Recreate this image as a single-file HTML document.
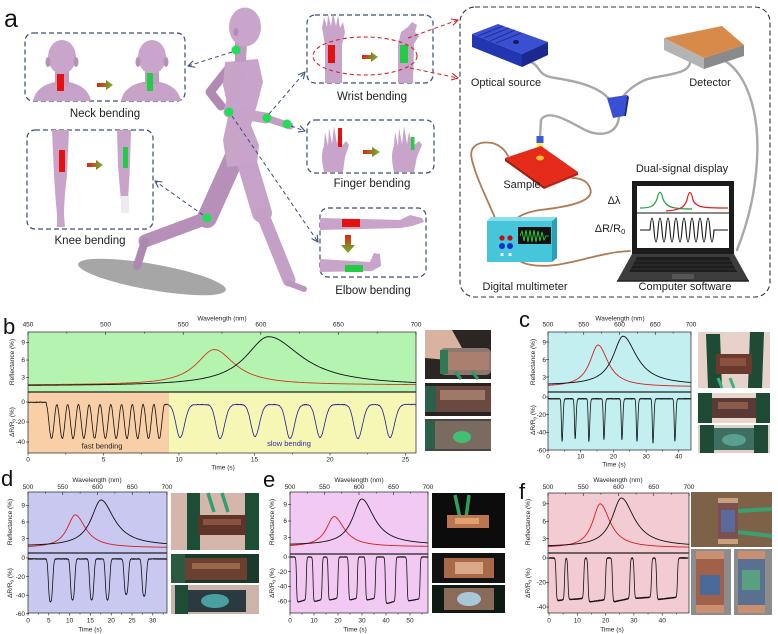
<!DOCTYPE html>
<html><head><meta charset="utf-8">
<style>
html,body{margin:0;padding:0;background:#fff;}
svg{display:block;}
text{font-family:"Liberation Sans",Arial,sans-serif;}
</style></head><body>
<svg id="g" width="778" height="634" viewBox="0 0 778 634" xmlns="http://www.w3.org/2000/svg">
<defs>
<marker id="an" viewBox="0 0 8 8" markerWidth="8" markerHeight="8" refX="7.5" refY="4" orient="auto" markerUnits="userSpaceOnUse"><path d="M1,0.6 L7.5,4 L1,7.4" fill="none" stroke="#3b4d7a" stroke-width="1.1"/></marker>
<marker id="ar" viewBox="0 0 8 8" markerWidth="8" markerHeight="8" refX="7.5" refY="4" orient="auto" markerUnits="userSpaceOnUse"><path d="M1,0.6 L7.5,4 L1,7.4" fill="none" stroke="#d42020" stroke-width="1.1"/></marker>
<linearGradient id="rg" x1="0" y1="0" x2="1" y2="0"><stop offset="0" stop-color="#e52010"/><stop offset="1" stop-color="#5cc030"/></linearGradient>
<linearGradient id="rgv" x1="0" y1="0" x2="0" y2="1"><stop offset="0" stop-color="#e52010"/><stop offset="1" stop-color="#5cc030"/></linearGradient>
<linearGradient id="yl" x1="0" y1="0" x2="0" y2="1"><stop offset="0" stop-color="#fff060"/><stop offset="1" stop-color="#ffd020" stop-opacity="0.4"/></linearGradient>
</defs>
<rect width="778" height="634" fill="#fff"/>

<!-- ============ PANEL A ============ -->
<text x="4" y="27" font-size="25" fill="#111">a</text>

<ellipse cx="152" cy="277" rx="75" ry="13" fill="#a6a6a6" transform="rotate(10 152 277)"/>

<!-- mannequin -->
<g fill="none" stroke-linecap="round" stroke-linejoin="round">
 <path d="M234,158 L207,218" stroke="#b690b8" stroke-width="20"/>
 <path d="M207,218 L145,241" stroke="#b690b8" stroke-width="13"/>
 <path d="M145,241 L137,266" stroke="#ad88b0" stroke-width="8"/>
 <path d="M229,68 L210,92 L221,106" stroke="#b08ab2" stroke-width="9"/>
 <path d="M245,156 L262,213" stroke="#c6a2c8" stroke-width="20"/>
 <path d="M262,213 L289,280" stroke="#c4a0c6" stroke-width="13"/>
 <path d="M288,283 L304,289" stroke="#bc98be" stroke-width="6"/>
</g>
<path d="M225,62 L258,59 L263,82 L257,105 L251,125 L259,145 L257,164 L227,167 L223,140 L229,112 L223,85 Z" fill="#c8a4ca"/>
<path d="M235,42 L247,42 L246,62 L235,62 Z" fill="#bf9bc1"/>
<ellipse cx="245" cy="27" rx="16" ry="19.5" fill="#c9a5cb"/>
<ellipse cx="236" cy="32" rx="2.5" ry="4" fill="#b28cb4"/>
<g fill="none" stroke-linecap="round" stroke-linejoin="round">
 <path d="M240,70 L229,112 L266,118" stroke="#c7a3c9" stroke-width="11"/>
 <path d="M266,118 L290,126" stroke="#c29ec4" stroke-width="7"/>
</g>
<g fill="#22dd55">
 <circle cx="236" cy="50" r="4.5"/><circle cx="229" cy="112" r="4.5"/><circle cx="267" cy="118" r="4.5"/><circle cx="287" cy="124" r="4.5"/><circle cx="207" cy="218" r="4.5"/>
</g>

<!-- dashed arrows -->
<g fill="none" stroke="#3b4d7a" stroke-width="1" stroke-dasharray="4,3">
 <path d="M232,52 L188,66" marker-end="url(#an)"/>
 <path d="M203,215 L155,181" marker-end="url(#an)"/>
 <path d="M269,114 L305,72" marker-end="url(#an)"/>
 <path d="M291,126 L305,131" marker-end="url(#an)"/>
 <path d="M232,116 L318,242" marker-end="url(#an)"/>
</g>

<!-- boxes -->
<g fill="none" stroke="#3b4d7a" stroke-width="1.2" stroke-dasharray="5,3">
 <rect x="25" y="33" width="160" height="68" rx="8"/>
 <rect x="27" y="130" width="126" height="99" rx="8"/>
 <rect x="307" y="15" width="126" height="68" rx="8"/>
 <rect x="307" y="120" width="127" height="53" rx="8"/>
 <rect x="320" y="208" width="106" height="69" rx="8"/>
</g>

<!-- neck box content -->
<path d="M33,101 Q36,86 55,82 L69,82 Q88,86 91,101 Z" fill="#c6a2c8"/>
<rect x="55" y="68" width="14" height="16" fill="#c09cc2"/>
<ellipse cx="62" cy="57" rx="14" ry="17" fill="#c9a5cb"/>
<ellipse cx="48" cy="62" rx="2.5" ry="5" fill="#b690b8"/><ellipse cx="76" cy="62" rx="2.5" ry="5" fill="#b690b8"/>
<rect x="57" y="74" width="7" height="17" fill="#e51010"/>
<path d="M97,83 L106,83 L106,80 L113,85 L106,90 L106,87 L97,87 Z" fill="url(#rg)"/>
<path d="M121,101 Q124,86 143,82 L160,82 Q178,86 181,101 Z" fill="#c6a2c8"/>
<rect x="145" y="68" width="14" height="16" fill="#c09cc2"/>
<ellipse cx="152" cy="57" rx="14" ry="17" fill="#c9a5cb"/>
<ellipse cx="138" cy="62" rx="2.5" ry="5" fill="#b690b8"/><ellipse cx="166" cy="62" rx="2.5" ry="5" fill="#b690b8"/>
<rect x="147" y="73" width="6" height="18" fill="#22cc44"/>

<!-- knee box content -->
<path d="M52,130 L69,130 L67,175 Q64,200 64,215 L65,227 L57,227 L57,215 Q55,195 54,175 Z" fill="#c8a4ca"/>
<rect x="59" y="150" width="6" height="22" fill="#e51010"/>
<path d="M87,163 L96,163 L96,160 L103,165 L96,170 L96,167 L87,167 Z" fill="url(#rg)"/>
<path d="M117,130 L131,130 L130,165 Q129,185 128,200 L129,213 L121,213 L121,200 Q119,180 118,165 Z" fill="#c8a4ca"/>
<rect x="121" y="196" width="8" height="17" fill="#f2eaf2"/>
<rect x="123" y="147" width="5" height="21" fill="#22cc44"/>

<!-- wrist box -->
<path d="M325,83 L325,45 L322,28 L324,17 L327,27 L328,14 L331,26 L333,13 L336,26 L338,15 L340,28 L343,22 L345,32 L342,45 L342,83 Z" fill="#c8a4ca"/>
<rect x="328" y="45" width="7" height="18" fill="#e51010"/>
<path d="M362,55 L371,55 L371,52 L378,57 L371,62 L371,59 L362,59 Z" fill="url(#rg)"/>
<path d="M398,83 L398,45 L401,32 L408,27 L412,22 L417,25 L415,32 L419,36 L414,44 L413,83 Z" fill="#c8a4ca"/>
<rect x="400" y="45" width="8" height="18" fill="#22cc44"/>
<ellipse cx="365" cy="56" rx="52" ry="19" fill="none" stroke="#d42020" stroke-width="1.1" stroke-dasharray="4,3"/>
<g fill="none" stroke="#d42020" stroke-width="1" stroke-dasharray="4,3">
 <path d="M408,38 L458,20" marker-end="url(#ar)"/>
 <path d="M410,68 L458,78" marker-end="url(#ar)"/>
</g>

<!-- finger box -->
<path d="M324,172 Q320,155 324,146 L325,132 L328,146 L329,128 L332,144 L334,126 L337,144 L339,129 L342,146 L346,141 L349,145 L345,157 L343,172 Z" fill="#c8a4ca"/>
<rect x="338" y="128" width="4" height="19" fill="#e51010"/>
<path d="M363,150 L372,150 L372,147 L380,152 L372,157 L372,154 L363,154 Z" fill="url(#rg)"/>
<path d="M394,172 Q390,155 394,146 L395,132 L398,146 L399,128 L402,144 L404,126 L407,144 L409,132 L413,146 L419,141 L422,145 L417,157 L414,172 Z" fill="#c8a4ca"/>
<rect x="411" y="137" width="3.5" height="13" fill="#22cc44"/>

<!-- elbow box -->
<path d="M320,218 L400,220 L410,215 L422,218 L424,222 L412,226 L400,228 L320,230 Z" fill="#c8a4ca"/>
<rect x="342" y="219" width="18" height="8" fill="#e51010"/>
<path d="M345,235 L351,235 L351,245 L355,245 L348,253 L341,245 L345,245 Z" fill="url(#rgv)"/>
<path d="M320,259 L370,262 L374,253 L380,254 L381,266 L372,271 L320,272 Z" fill="#c8a4ca"/>
<rect x="345" y="265" width="18" height="7" fill="#22cc44"/>

<g font-size="11.5" fill="#222" text-anchor="middle">
 <text x="105" y="117">Neck bending</text>
 <text x="90" y="244">Knee bending</text>
 <text x="372" y="100">Wrist bending</text>
 <text x="372" y="187">Finger bending</text>
 <text x="373" y="294">Elbow bending</text>
</g>

<!-- big right box -->
<rect x="460" y="7" width="310" height="290" rx="15" fill="none" stroke="#333" stroke-width="1.1" stroke-dasharray="5,3"/>

<g fill="none" stroke="#a8a8a8" stroke-width="2.4" stroke-linecap="round">
 <path d="M521,60 C545,62 532,75 555,78 C582,82 600,88 610,100"/>
 <path d="M690,60 C692,76 660,74 645,80 C632,86 626,92 622,98"/>
 <path d="M619,117 C617,135 600,137 585,130 C570,122 548,108 541,120 L540,138"/>
 <path d="M716,57 C745,65 760,110 757,160 C755,200 745,230 737,250"/>
</g>
<path d="M472,34 L498,24 L548,42 L522,54 Z" fill="#3a4fd2"/>
<path d="M472,34 L522,54 L522,67 L472,47 Z" fill="#2236b2"/>
<path d="M522,54 L548,42 L548,55 L522,67 Z" fill="#1a2890"/>
<g stroke="#1a2a8a" stroke-width="0.8"><path d="M478,36 L503,26 M484,38 L509,28 M490,41 L515,30 M496,43 L521,33"/></g>
<ellipse cx="516" cy="42" rx="3" ry="2" fill="#121a60"/>
<path d="M664,38 L722,26 L744,45 L704,58 Z" fill="#d88a4a"/>
<path d="M664,38 L704,58 L704,69 L664,50 Z" fill="#b4b4b4"/>
<path d="M704,58 L744,45 L744,56 L704,69 Z" fill="#8a8a8a"/>
<path d="M607,98 L627,95 L624,116 L613,118 Z" fill="#3a4fd2"/>
<path d="M624,116 L627,95 L629,97 L626,116 Z" fill="#1a2890"/>
<rect x="537" y="143" width="6" height="18" fill="url(#yl)"/>
<rect x="536.5" y="136" width="7" height="7" fill="#3a5ad0"/>
<path d="M505,158 L541,146 L578,172 L544,186 Z" fill="#e42a18"/>
<path d="M505,158 L544,186 L544,189 L505,161 Z" fill="#a81a10"/>
<path d="M544,186 L578,172 L578,175 L544,189 Z" fill="#c02010"/>
<ellipse cx="540" cy="158" rx="4" ry="2.5" fill="#ffe040" opacity="0.8"/>
<g fill="none" stroke="#b07a52" stroke-width="1.8" stroke-linecap="round">
 <path d="M502,237 C496,215 478,185 472,160 C468,145 480,141 492,143 C500,145 505,150 508,156"/>
 <path d="M510,237 C510,222 515,214 540,210 C575,206 595,200 590,188 C587,180 580,178 572,178"/>
 <path d="M512,253 C518,266 540,268 562,264 C585,260 605,252 630,251"/>
</g>
<path d="M487,221 L491,217 L557,217 L552,221 Z" fill="#8adfea"/>
<path d="M552,221 L557,217 L557,258 L552,262 Z" fill="#2a9fb6"/>
<rect x="487" y="221" width="65" height="41" fill="#46c6da"/>
<rect x="518" y="227" width="33" height="17" fill="#111"/>
<path d="M520,236 L522,231 L524,241 L526,230 L528,242 L530,230 L532,242 L534,230 L536,242 L538,231 L540,241 L542,232 L544,240 L546,236 L549,236" fill="none" stroke="#30e040" stroke-width="0.8"/>
<circle cx="502" cy="238" r="2.6" fill="#c01010"/><circle cx="510" cy="238" r="2.6" fill="#c01010"/>
<circle cx="502" cy="246" r="3" fill="#1030c8"/><circle cx="510" cy="246" r="3" fill="#1030c8"/>
<rect x="500.5" y="253" width="3" height="3" fill="#eee"/><rect x="508.5" y="253" width="3" height="3" fill="#eee"/>
<rect x="632" y="181" width="102" height="73" fill="#1c1c1c"/>
<rect x="637" y="186" width="92" height="62" fill="#fff"/>
<path d="M632,254 L734,254 L749,281 L617,281 Z" fill="#3c3c3c"/>
<path d="M637,257 L729,257 L737,272 L629,272 Z" fill="#1e1e1e"/>
<g stroke="#444" stroke-width="0.5"><path d="M634,261 L732,261 M632,265 L734,265 M631,269 L736,269"/></g>
<rect x="672" y="274" width="22" height="5" fill="#555"/>
<path d="M617,281 L749,281" stroke="#222" stroke-width="1.5"/>
<path d="M640,208 C650,208 654,207 657,199 C659,190 661,190 663,199 C666,207 672,209 692,209" fill="none" stroke="#20a040" stroke-width="1.2"/>
<path d="M666,211 C678,210 684,209 687,200 C689,190 691,190 693,200 C696,208 705,208 728,208" fill="none" stroke="#e02020" stroke-width="1.2"/>
<path d="M637,213 L729,213" stroke="#111" stroke-width="1"/>
<path d="M640,230 L650,230 Q652,206 654,230 T658,230 T662,230 T666,230 T670,230 T674,230 T678,230 T682,230 T686,230 T690,230 T694,230 T698,230 T702,230 T706,230 T710,230 T714,230 L728,230" fill="none" stroke="#111" stroke-width="1.1"/>

<g font-size="11" fill="#222" text-anchor="middle">
 <text x="506" y="86">Optical source</text>
 <text x="710" y="86">Detector</text>
 <text x="522" y="188">Sample</text>
 <text x="682" y="172">Dual-signal display</text>
 <text x="525" y="290">Digital multimeter</text>
 <text x="685" y="290">Computer software</text>
 <text x="614" y="204">Δλ</text>
 <text x="610" y="232">ΔR/R<tspan font-size="7.5" dy="2">0</tspan></text>
</g>

<!-- ============ PLOT BACKGROUNDS ============ -->
<rect x="28" y="332" width="388" height="60" fill="#b5f3b0"/>
<rect x="28" y="392" width="141" height="61" fill="#f8cfa6"/>
<rect x="169" y="392" width="247" height="61" fill="#f7f7b5"/>
<rect x="548" y="332" width="143" height="118" fill="#c3eff0"/>
<rect x="28" y="492" width="139" height="121" fill="#c9c8f1"/>
<rect x="290" y="492" width="138" height="121" fill="#f1c9f3"/>
<rect x="548" y="493" width="141" height="120" fill="#f3cbd3"/>

<g id="plots"></g>

<!-- ============ PHOTOS ============ -->
<rect x="425" y="330" width="66" height="49" fill="#2b2624"/>
<path d="M425,330 L452,330 L462,348 L448,360 L425,358 Z" fill="#d9b2a2"/>
<rect x="440" y="348" width="51" height="27" rx="5" fill="#8c7870"/>
<rect x="447" y="352" width="42" height="18" fill="#b08070" opacity="0.85"/>
<rect x="440" y="350" width="8" height="24" fill="#2d7a55"/>
<path d="M455,372 L461,379 M472,372 L478,379" stroke="#2a9a60" stroke-width="3"/>
<rect x="425" y="383" width="66" height="33" fill="#2a2220"/>
<rect x="425" y="386" width="66" height="26" fill="#6a4a40"/>
<rect x="440" y="390" width="45" height="10" fill="#a07868"/>
<rect x="425" y="386" width="11" height="26" fill="#2a6048"/>
<rect x="425" y="419" width="66" height="32" fill="#4a4644"/>
<rect x="425" y="421" width="66" height="28" fill="#7a6a60"/>
<ellipse cx="462" cy="437" rx="9" ry="6" fill="#40c070"/>
<rect x="425" y="421" width="10" height="28" fill="#2a6048"/>
<rect x="698" y="332" width="72" height="56" fill="#e6d2c8"/>
<path d="M706,334 L720,334 L722,388 L708,388 Z" fill="#1f4a36"/>
<path d="M750,332 L764,332 L762,388 L748,388 Z" fill="#1f4a36"/>
<rect x="716" y="354" width="36" height="20" fill="#6b3a2e"/>
<rect x="720" y="358" width="26" height="8" fill="#8a5040"/>
<path d="M718,378 L722,388 M730,378 L734,388" stroke="#38b080" stroke-width="3"/>
<rect x="698" y="393" width="72" height="30" fill="#e8d6cc"/>
<rect x="698" y="393" width="14" height="30" fill="#1f4a36"/>
<rect x="756" y="393" width="14" height="30" fill="#1f4a36"/>
<rect x="712" y="398" width="44" height="20" fill="#5a3a36"/>
<rect x="718" y="402" width="30" height="7" fill="#8a5a4a"/>
<rect x="698" y="425" width="72" height="28" fill="#ddcfc6"/>
<rect x="700" y="425" width="14" height="28" fill="#1f4a36"/>
<rect x="754" y="425" width="14" height="28" fill="#1f4a36"/>
<rect x="714" y="428" width="40" height="22" fill="#3d7060"/>
<ellipse cx="734" cy="440" rx="12" ry="6" fill="#5aa090"/>
<rect x="171" y="493" width="88" height="57" fill="#d6b6aa"/>
<path d="M187,493 L200,493 L200,550 L187,550 Z" fill="#1e4d36"/>
<rect x="245" y="493" width="14" height="57" fill="#1e4d36"/>
<rect x="198" y="515" width="48" height="20" fill="#5c3428"/>
<rect x="203" y="519" width="38" height="6" fill="#8a5040"/>
<path d="M208,493 L214,512 M222,493 L228,512" stroke="#30a070" stroke-width="3.5"/>
<rect x="171" y="554" width="88" height="29" fill="#1c3a2c"/>
<rect x="171" y="554" width="14" height="29" fill="#2a5a40"/>
<rect x="185" y="558" width="62" height="22" fill="#6a4030"/>
<rect x="192" y="563" width="48" height="6" fill="#9a6848"/>
<rect x="171" y="585" width="88" height="29" fill="#cdb4aa"/>
<rect x="175" y="585" width="13" height="29" fill="#1e4d36"/>
<rect x="188" y="590" width="58" height="22" fill="#2a3a40"/>
<ellipse cx="215" cy="601" rx="14" ry="7" fill="#4aa0a0"/>
<rect x="432" y="493" width="73" height="55" fill="#0c0c0c"/>
<path d="M455,495 L460,518 M469,495 L466,518" stroke="#2ea060" stroke-width="3.5"/>
<rect x="447" y="515" width="42" height="13" fill="#b87550"/>
<rect x="455" y="518" width="24" height="6" fill="#e0a070"/>
<rect x="432" y="553" width="73" height="30" fill="#121212"/>
<rect x="444" y="558" width="50" height="20" fill="#a86a48"/>
<rect x="455" y="562" width="28" height="12" fill="#d8a888"/>
<rect x="432" y="585" width="73" height="28" fill="#0e1a12"/>
<rect x="444" y="588" width="50" height="22" fill="#8a6a58"/>
<ellipse cx="469" cy="599" rx="12" ry="7" fill="#a8c8d8"/>
<rect x="691" y="492" width="81" height="55" fill="#7d6248"/>
<rect x="718" y="498" width="20" height="46" fill="#7a5050"/>
<rect x="721" y="510" width="14" height="22" fill="#5a6a9a"/>
<rect x="718" y="498" width="20" height="5" fill="#c8a080"/><rect x="718" y="539" width="20" height="5" fill="#c8a080"/>
<path d="M738,511 L772,509 M738,532 L772,536" stroke="#3aa070" stroke-width="4"/>
<rect x="691" y="549" width="40" height="66" fill="#8c8c8c"/>
<rect x="696" y="551" width="28" height="62" fill="#a0604a"/>
<rect x="700" y="575" width="20" height="20" fill="#4a6a9a"/>
<rect x="696" y="551" width="28" height="8" fill="#c89070"/><rect x="696" y="605" width="28" height="8" fill="#c89070"/>
<rect x="734" y="549" width="38" height="66" fill="#8c8c8c"/>
<rect x="738" y="551" width="27" height="62" fill="#5a7090"/>
<rect x="742" y="570" width="18" height="20" fill="#5aa080"/>
<rect x="738" y="551" width="27" height="8" fill="#c89070"/><rect x="738" y="605" width="27" height="8" fill="#c89070"/>

<!-- ============ PLOT TEXT ============ -->
<g font-size="22" fill="#111">
 <text x="3" y="334">b</text>
 <text x="519" y="327">c</text>
 <text x="1" y="486">d</text>
 <text x="263" y="487">e</text>
 <text x="519" y="499">f</text>
</g>
<g font-size="6.5" fill="#222" text-anchor="middle">
 <text x="222" y="320.5">Wavelength (nm)</text>
 <text x="28" y="326.5">450</text><text x="105.6" y="326.5">500</text><text x="183.2" y="326.5">550</text><text x="260.8" y="326.5">600</text><text x="338.4" y="326.5">650</text><text x="416" y="326.5">700</text>
 <text x="28" y="461.5">0</text><text x="103.5" y="461.5">5</text><text x="179" y="461.5">10</text><text x="254.5" y="461.5">15</text><text x="330" y="461.5">20</text><text x="405.5" y="461.5">25</text>
 <text x="223" y="469.5">Time (s)</text>
 <text transform="translate(14,362) rotate(-90)">Reflectance (%)</text>
 <text transform="translate(14,422) rotate(-90)">ΔR/R<tspan font-size="4.5" dy="1.5">0</tspan><tspan dy="-1.5"> (%)</tspan></text>
 <text x="620" y="320.5">Wavelength (nm)</text>
 <text x="548" y="326.5">500</text><text x="583.75" y="326.5">550</text><text x="619.5" y="326.5">600</text><text x="655.25" y="326.5">650</text><text x="691" y="326.5">700</text>
 <text x="548" y="458.5">0</text><text x="580.7" y="458.5">10</text><text x="613.4" y="458.5">20</text><text x="646.1" y="458.5">30</text><text x="678.8" y="458.5">40</text>
 <text x="614" y="466.5">Time (s)</text>
 <text transform="translate(535,362) rotate(-90)">Reflectance (%)</text>
 <text transform="translate(535,420) rotate(-90)">ΔR/R<tspan font-size="4.5" dy="1.5">0</tspan><tspan dy="-1.5"> (%)</tspan></text>
 <text x="97" y="482">Wavelength (nm)</text>
 <text x="28" y="489">500</text><text x="62.75" y="489">550</text><text x="97.5" y="489">600</text><text x="132.25" y="489">650</text><text x="167" y="489">700</text>
 <text x="28" y="622.5">0</text><text x="48.8" y="622.5">5</text><text x="69.6" y="622.5">10</text><text x="90.4" y="622.5">15</text><text x="111.2" y="622.5">20</text><text x="132" y="622.5">25</text><text x="152.8" y="622.5">30</text>
 <text x="90" y="631.5">Time (s)</text>
 <text transform="translate(12,522) rotate(-90)">Reflectance (%)</text>
 <text transform="translate(12,583) rotate(-90)">ΔR/R<tspan font-size="4.5" dy="1.5">0</tspan><tspan dy="-1.5"> (%)</tspan></text>
 <text x="359" y="482">Wavelength (nm)</text>
 <text x="290" y="489">500</text><text x="324.5" y="489">550</text><text x="359" y="489">600</text><text x="393.5" y="489">650</text><text x="428" y="489">700</text>
 <text x="290" y="622.5">0</text><text x="314" y="622.5">10</text><text x="338" y="622.5">20</text><text x="362" y="622.5">30</text><text x="386" y="622.5">40</text><text x="410" y="622.5">50</text>
 <text x="355" y="631.5">Time (s)</text>
 <text transform="translate(274,522) rotate(-90)">Reflectance (%)</text>
 <text transform="translate(274,583) rotate(-90)">ΔR/R<tspan font-size="4.5" dy="1.5">0</tspan><tspan dy="-1.5"> (%)</tspan></text>
 <text x="618" y="482">Wavelength (nm)</text>
 <text x="548" y="489">500</text><text x="583.25" y="489">550</text><text x="618.5" y="489">600</text><text x="653.75" y="489">650</text><text x="689" y="489">700</text>
 <text x="549" y="622.5">0</text><text x="577.3" y="622.5">10</text><text x="605.6" y="622.5">20</text><text x="633.9" y="622.5">30</text><text x="662.2" y="622.5">40</text>
 <text x="612" y="631.5">Time (s)</text>
 <text transform="translate(530,522) rotate(-90)">Reflectance (%)</text>
 <text transform="translate(530,583) rotate(-90)">ΔR/R<tspan font-size="4.5" dy="1.5">0</tspan><tspan dy="-1.5"> (%)</tspan></text>
</g>
<g font-size="6.5" fill="#222" text-anchor="end">
 <text x="25" y="344.7">9</text><text x="25" y="362.2">6</text><text x="25" y="379.7">3</text>
 <text x="25" y="404.2">0</text><text x="25" y="424.2">-20</text><text x="25" y="444.2">-40</text>
 <text x="546" y="344.7">9</text><text x="546" y="362.2">6</text><text x="546" y="379.7">3</text>
 <text x="546" y="399.2">0</text><text x="546" y="416.9">-20</text><text x="546" y="434.6">-40</text><text x="546" y="452.3">-60</text>
 <text x="25" y="507.7">9</text><text x="25" y="524.2">6</text><text x="25" y="540.7">3</text>
 <text x="25" y="560.2">0</text><text x="25" y="578.8">-20</text><text x="25" y="597.4">-40</text><text x="25" y="616">-60</text>
 <text x="287" y="506.7">9</text><text x="287" y="523.2">6</text><text x="287" y="539.7">3</text>
 <text x="287" y="559.2">0</text><text x="287" y="573.9">-20</text><text x="287" y="588.6">-40</text><text x="287" y="603.3">-60</text>
 <text x="546" y="506">9</text><text x="546" y="523.4">6</text><text x="546" y="540.8">3</text>
 <text x="546" y="560.2">0</text><text x="546" y="584.7">-20</text><text x="546" y="609.2">-40</text>
</g>
<text x="102" y="448.5" font-size="7.5" fill="#222" text-anchor="middle">fast bending</text>
<text x="289" y="446" font-size="7.5" fill="#2a2aa0" text-anchor="middle">slow bending</text>
</svg>

<script>
(function(){
const NS='http://www.w3.org/2000/svg';
const G=document.getElementById('plots');
function el(t,a){const e=document.createElementNS(NS,t);for(const k in a)e.setAttribute(k,a[k]);G.appendChild(e);return e;}
let seed=12345;function rnd(){seed=(seed*16807)%2147483647;return seed/2147483647-0.5;}
function pl(pts,col,w){el('path',{d:'M'+pts.map(p=>p[0].toFixed(2)+' '+p[1].toFixed(2)).join(' L'),fill:'none',stroke:col,'stroke-width':w,'stroke-linejoin':'round'});}
function lor(l,c){const w=l<c.p?c.wl:c.wr;return c.b+(c.h-c.b)/(1+Math.pow((l-c.p)/w,2));}
function sg(x){return 1/(1+Math.exp(-x/0.12));}
function sq(lows){return t=>{let v=0;for(const L of lows){const m=L[2]+(L[3]||0)*(t-L[0])/(L[1]-L[0]);v+=m*sg(t-L[0])*sg(L[1]-t);}return v;};}
function dips(list,base,sl,sr,pw){return t=>{let v=base;for(const d of list){const s=t<d[0]?sl:sr;v-=d[1]*Math.exp(-Math.pow(Math.abs(t-d[0])/s,pw));}return v;};}
const C=[
 {x0:28,x1:416,yT:332,yM:392,yB:453,l0:450,l1:700,yR:v=>395-5.83*v,yD:v=>402-v,xt:t=>28+15.1*t,t1:25.7,dv:[0,-20,-40],tv:[0,5,10,15,20,25],
  red:{p:570,h:7.8,b:1.7,wl:14,wr:16,c:'#cc3a1c'},blk:{p:605,h:10,b:1.55,wl:18,wr:26},
  waves:[{t0:0,t1:9.3,f:t=>{if(t<1.2)return -0.3;if(t<9.05){const P=(9.05-1.2)/11;return -19.5+17*Math.cos(2*Math.PI*(t-1.2)/P);}return -2.5;},c:'#111'},
         {t0:9.3,t1:25.7,f:dips([[10.07,33],[12.72,34],[15.03,32],[17.35,34],[19.34,33],[21.85,34],[23.97,33]],-2.5,0.38,0.42,2),c:'#1c1ca0'}]},
 {x0:548,x1:691,yT:332,yM:392,yB:450,l0:500,l1:700,yR:v=>394.5-5.83*v,yD:v=>397-0.885*v,xt:t=>548+3.27*t,t1:43.7,dv:[0,-20,-40,-60],tv:[0,10,20,30,40],
  red:{p:570,h:8.5,b:1.3,wl:14,wr:17,c:'#d42020'},blk:{p:605,h:10,b:1.6,wl:17,wr:23},
  waves:[{t0:0,t1:43.7,f:dips([[4.3,48],[8.3,45],[12.5,48],[17.1,46],[22.6,46],[27.2,48],[32.1,50],[38.8,48]],-2,0.28,0.38,2),c:'#111'}]},
 {x0:28,x1:167,yT:492,yM:553,yB:613,l0:500,l1:700,yR:v=>555-5.5*v,yD:v=>558-0.93*v,xt:t=>28+4.16*t,t1:33.4,dv:[0,-20,-40,-60],tv:[0,5,10,15,20,25,30],
  red:{p:568,h:7.3,b:1.3,wl:14,wr:18,c:'#d42020'},blk:{p:605,h:10,b:1.6,wl:17,wr:23},
  waves:[{t0:0,t1:33.4,f:dips([[5.4,46],[10.7,44],[15.3,44],[19.1,44],[23.6,38],[27.9,40]],-1,0.6,0.65,3),c:'#111'}]},
 {x0:290,x1:428,yT:492,yM:554,yB:613,l0:500,l1:700,yR:v=>554-5.5*v,yD:v=>557-0.735*v,xt:t=>290+2.4*t,t1:57.4,dv:[0,-20,-40,-60],tv:[0,10,20,30,40,50],
  red:{p:564,h:6.8,b:1.3,wl:14,wr:18,c:'#d42020'},blk:{p:604,h:10,b:1.6,wl:16,wr:22},
  waves:[{t0:0,t1:57.4,f:sq([[2.7,6.8,-62,4],[9.6,13.4,-61,3],[15.9,20,-59,3],[24.4,28.1,-59,3],[31.5,35.6,-59,3],[39.7,44,-64,4],[48.8,54.2,-60,3]]),c:'#111'}]},
 {x0:548,x1:689,yT:493,yM:553,yB:613,l0:500,l1:700,yR:v=>556-5.8*v,yD:v=>558-1.225*v,xt:t=>549+2.83*t,t1:49.1,dv:[0,-20,-40],tv:[0,10,20,30,40],
  red:{p:574,h:9,b:1.4,wl:13,wr:17,c:'#d42020'},blk:{p:604,h:10,b:1.6,wl:16,wr:22},
  waves:[{t0:0,t1:49.1,f:sq([[2.5,5.5,-35,1],[6.7,12.3,-34,1],[13.8,20,-36,2],[22.4,28.6,-36,3],[30.1,36.2,-33,1],[38,45.4,-34,2]]),c:'#111'}]}
];
for(const c of C){
 const xl=l=>c.x0+(l-c.l0)/(c.l1-c.l0)*(c.x1-c.x0);
 const k={stroke:'#222','stroke-width':0.6};
 for(let l=c.l0;l<=c.l1;l+=25){const x=xl(l);el('line',Object.assign({x1:x,x2:x,y1:c.yT,y2:c.yT+((l%50)?1.5:3)},k));}
 for(const v of [3,6,9]){const y=c.yR(v);el('line',Object.assign({x1:c.x0-2,x2:c.x0+1,y1:y,y2:y},k));}
 for(const v of c.dv){const y=c.yD(v);el('line',Object.assign({x1:c.x0-2,x2:c.x0+1,y1:y,y2:y},k));}
 const ts=c.tv[1]-c.tv[0];
 for(let i=0;;i++){const t=i*ts/2;if(t>c.t1)break;const x=c.xt(t);el('line',Object.assign({x1:x,x2:x,y1:c.yB,y2:c.yB+((i%2)?1.5:2.5)},k));}
 for(const cv of [c.red,c.blk]){const pts=[];for(let l=c.l0;l<=c.l1;l+=1)pts.push([xl(l),Math.max(c.yT+1,c.yR(lor(l,cv)))]);pl(pts,cv.c||'#111',0.9);}
 for(const w of c.waves){const pts=[];for(let t=w.t0;t<=w.t1+1e-9;t+=0.025){let v=w.f(t)+rnd()*0.8;let y=c.yD(v);y=Math.max(c.yM+1,Math.min(c.yB-1,y));pts.push([c.xt(t),y]);}pl(pts,w.c||'#111',0.8);}
 el('rect',{x:c.x0,y:c.yT,width:c.x1-c.x0,height:c.yB-c.yT,fill:'none',stroke:'#222','stroke-width':0.7});
 el('line',{x1:c.x0,x2:c.x1,y1:c.yM,y2:c.yM,stroke:'#222','stroke-width':1.2});
}
})();
</script>
</body></html>
